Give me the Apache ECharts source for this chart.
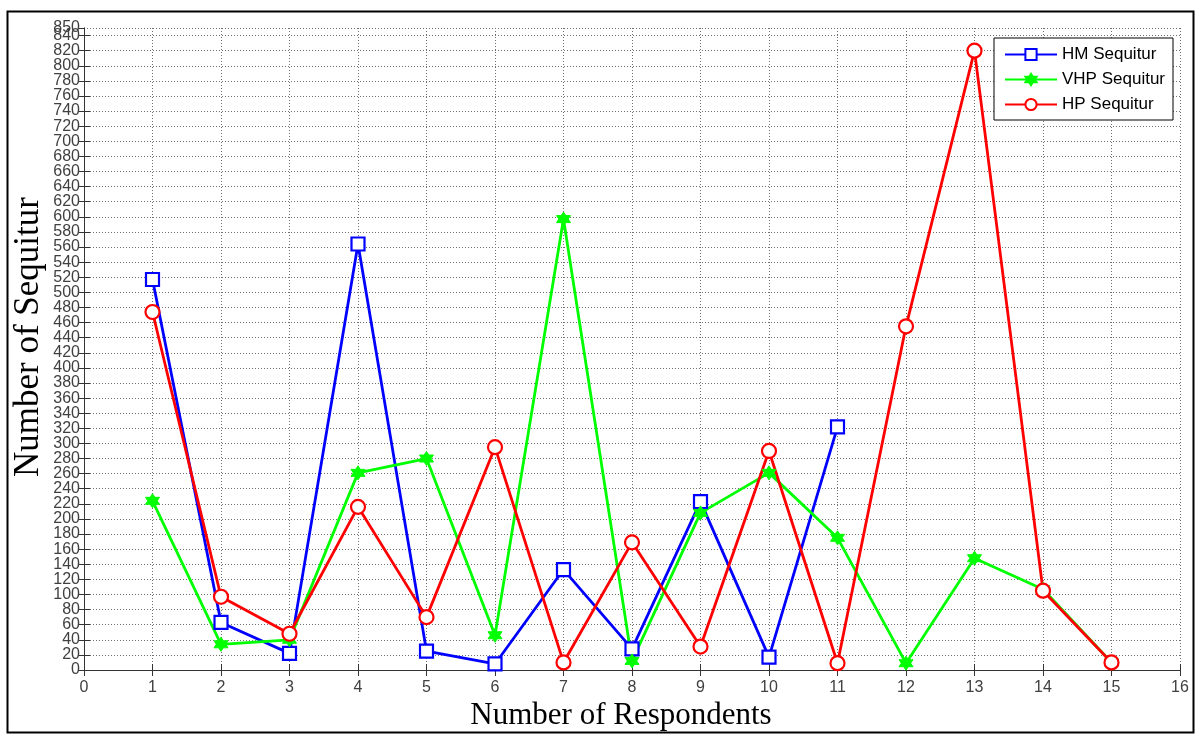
<!DOCTYPE html>
<html><head><meta charset="utf-8">
<script src="https://cdn.jsdelivr.net/npm/echarts@6/dist/echarts.min.js"></script>
<style>html,body{margin:0;padding:0;background:#fff}#c{width:1196px;height:734px}</style>
</head><body><div id="c"></div>
<script>
const respondentsHM = [1,2,3,4,5,6,7,8,9,10,11];
const hmValues = [517,63,22,564,25,8,133,28,223,17,322];
const respondents = [1,2,3,4,5,6,7,8,9,10,11,12,13,14,15];
const vhpValues = [224,34,40,261,280,46,597,12,208,261,175,9,148,107,10];
const hpValues = [474,97,48,216,70,295,10,169,31,290,9,455,820,105,10];
const seriesNames = ['HM Sequitur','VHP Sequitur','HP Sequitur'];
const yEndLabels = [0, 850];

const hexagram = 'path://M0,-10L2.9,-5L8.66,-5L5.77,0L8.66,5L2.9,5L0,10L-2.9,5L-8.66,5L-5.77,0L-8.66,-5L-2.9,-5Z';
const pairs = (xs, ys) => xs.map((x,i)=>[x, ys[i]]);

const chart = echarts.init(document.getElementById('c'), null, {renderer:'canvas'});
const tickFont = {fontFamily:'Liberation Sans, Arial', fontSize:16, color:'#404040', lineHeight:12};
const gridLine = {show:true, lineStyle:{color:'#707070', type:[1,2], width:1}};
chart.setOption({
  animation:false,
  backgroundColor:'#fff',
  grid:{left:84, right:16, top:28, bottom:64, containLabel:false, outerBoundsMode:'none'},
  legend:{
    right:23, top:38, orient:'vertical',
    backgroundColor:'#fff', borderColor:'#000', borderWidth:1,
    padding:[8,8,7,10], itemGap:8, itemWidth:52, itemHeight:14,
    textStyle:{fontFamily:'Liberation Sans, Arial', fontSize:17, color:'#000'},
    data:seriesNames
  },
  xAxis:[{
    type:'value', min:0, max:16, interval:1,
    name:'Number of Respondents', nameLocation:'middle', nameGap:30, nameMoveOverlap:false,
    nameTextStyle:{fontFamily:'Liberation Serif, Times New Roman', fontSize:31, color:'#000', padding:[0,22,0,0]},
    axisLine:{lineStyle:{color:'#333', width:1}},
    axisTick:{inside:true, length:6, lineStyle:{color:'#333'}},
    axisLabel:Object.assign({}, tickFont, {margin:9, lineHeight:18, showMinLabel:true, showMaxLabel:true}),
    splitLine:gridLine
  },{
    type:'value', min:0, max:16, interval:1, position:'top',
    axisLine:{show:true, lineStyle:{color:'#333', width:1}},
    axisTick:{inside:true, length:6, lineStyle:{color:'#333'}},
    axisLabel:{show:false}, splitLine:{show:false}
  }],
  yAxis:[{
    type:'value', min:0, max:850, interval:20,
    name:'Number of Sequitur', nameLocation:'middle', nameGap:38, nameMoveOverlap:false,
    nameTextStyle:{fontFamily:'Liberation Serif, Times New Roman', fontSize:35, color:'#000', padding:[0,0,0,24]},
    axisLine:{show:true, lineStyle:{color:'#333', width:1}},
    axisTick:{show:true, inside:true, length:6, lineStyle:{color:'#333'}},
    axisLabel:Object.assign({margin:4, showMinLabel:false, showMaxLabel:false, hideOverlap:false}, tickFont),
    splitLine:gridLine
  },{
    type:'value', min:0, max:850, interval:20, position:'right',
    axisLine:{show:true, lineStyle:{color:'#333', width:1}},
    axisTick:{show:true, inside:true, length:6, lineStyle:{color:'#333'}},
    axisLabel:{show:false}, splitLine:{show:false}
  },{
    type:'value', min:0, max:850, position:'left',
    axisLine:{show:false}, axisTick:{show:false}, splitLine:{show:false},
    axisLabel:Object.assign({margin:4, customValues:yEndLabels, showMinLabel:true, showMaxLabel:true}, tickFont)
  }],
  series:[
    {name:seriesNames[0], type:'line', data:pairs(respondentsHM, hmValues),
     symbol:'rect', symbolSize:13,
     lineStyle:{color:'#0000ff', width:2.8},
     itemStyle:{color:'#fff', borderColor:'#0000ff', borderWidth:2.2}},
    {name:seriesNames[1], type:'line', data:pairs(respondents, vhpValues),
     symbol:hexagram, symbolSize:14,
     lineStyle:{color:'#00ff00', width:2.8},
     itemStyle:{color:'#00ff00', borderColor:'#00ff00', borderWidth:1}},
    {name:seriesNames[2], type:'line', data:pairs(respondents, hpValues),
     symbol:'circle', symbolSize:14,
     lineStyle:{color:'#ff0000', width:2.8},
     itemStyle:{color:'#fff', borderColor:'#ff0000', borderWidth:2.2}}
  ],
  graphic:[{
    type:'rect', left:5, top:9, silent:true, z:-1,
    shape:{width:1186, height:721},
    style:{fill:null, stroke:'#000', lineWidth:2}
  }]
});
</script></body></html>
